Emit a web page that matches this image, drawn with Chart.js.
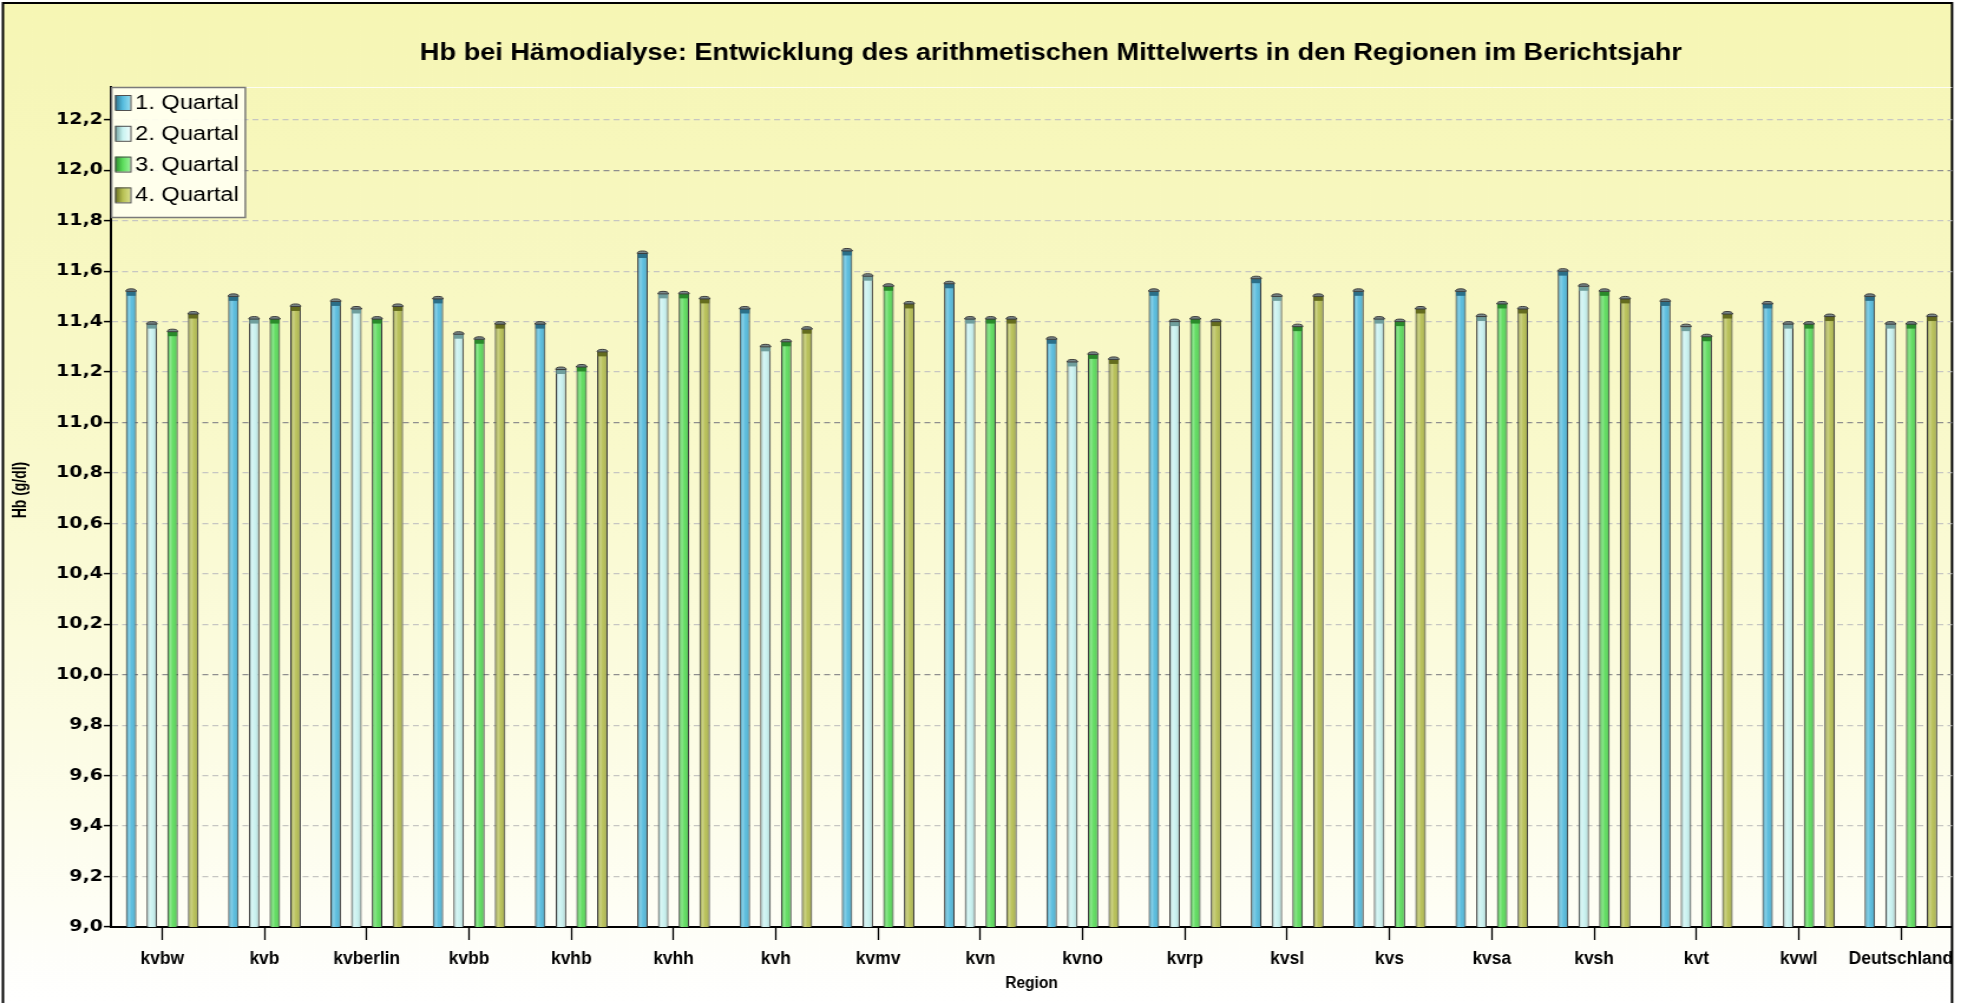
<!DOCTYPE html>
<html><head><meta charset="utf-8">
<script src="https://cdn.jsdelivr.net/npm/chart.js@4"></script>
<style>html,body{margin:0;padding:0;background:#fff;overflow:hidden}#wrap{width:1961px;height:1003px;position:relative}</style>
</head><body><div id="wrap"><canvas id="c" width="1662" height="1003" style="width:1961px;height:1003px;display:block"></canvas></div>
<script>
const chartTitle = 'Hb bei Hämodialyse: Entwicklung des arithmetischen Mittelwerts in den Regionen im Berichtsjahr';
const yAxisTitle = 'Hb (g/dl)';
const xAxisTitle = 'Region';
const categories = ['kvbw','kvb','kvberlin','kvbb','kvhb','kvhh','kvh','kvmv','kvn','kvno','kvrp','kvsl','kvs','kvsa','kvsh','kvt','kvwl','Deutschland'];
const seriesLabels = ['1. Quartal','2. Quartal','3. Quartal','4. Quartal'];
const q1 = [11.52, 11.50, 11.48, 11.49, 11.39, 11.67, 11.45, 11.68, 11.55, 11.33, 11.52, 11.57, 11.52, 11.52, 11.60, 11.48, 11.47, 11.50];
const q2 = [11.39, 11.41, 11.45, 11.35, 11.21, 11.51, 11.30, 11.58, 11.41, 11.24, 11.40, 11.50, 11.41, 11.42, 11.54, 11.38, 11.39, 11.39];
const q3 = [11.36, 11.41, 11.41, 11.33, 11.22, 11.51, 11.32, 11.54, 11.41, 11.27, 11.41, 11.38, 11.40, 11.47, 11.52, 11.34, 11.39, 11.39];
const q4 = [11.43, 11.46, 11.46, 11.39, 11.28, 11.49, 11.37, 11.47, 11.41, 11.25, 11.40, 11.50, 11.45, 11.45, 11.49, 11.43, 11.42, 11.42];
const yTickValues = [9.0, 9.2, 9.4, 9.6, 9.8, 10.0, 10.2, 10.4, 10.6, 10.8, 11.0, 11.2, 11.4, 11.6, 11.8, 12.0, 12.2];

const seriesColors = [
  {base:'#54bbdd', dark:'#2b6f88', light:'#94dcf0'},
  {base:'#c8f2f0', dark:'#6f9e9c', light:'#effefd'},
  {base:'#5bdc5b', dark:'#2a8a2a', light:'#9af29a'},
  {base:'#b6bf52', dark:'#646c1e', light:'#d8df8a'}
];
const seriesData = [q1, q2, q3, q4];

// canvas is drawn at 1662 px wide and displayed stretched to 1961 px, like the reference
const FRAME_L = 2.5, FRAME_R = 1654.4, FRAME_T = 3;
const AXIS_FONT = '"Liberation Sans", Arial, sans-serif';
const NARROW = 0.82; // horizontal squeeze for the narrow axis captions

function narrowText(ctx, text, x, y, size, rotate) {
  ctx.save();
  ctx.translate(x, y);
  if (rotate) ctx.rotate(-Math.PI / 2);
  ctx.scale(NARROW, 1);
  ctx.font = 'bold ' + size + 'px ' + AXIS_FONT;
  ctx.fillStyle = '#000';
  ctx.textAlign = 'center';
  ctx.textBaseline = 'middle';
  ctx.fillText(text, 0, 0);
  ctx.restore();
}

const framePlugin = {
  id: 'frame',
  beforeDraw(chart) {
    const ctx = chart.ctx;
    ctx.save();
    ctx.fillStyle = '#ffffff';
    ctx.fillRect(0, 0, chart.width, chart.height);
    const g = ctx.createLinearGradient(0, FRAME_T, 0, chart.height);
    g.addColorStop(0, '#f6f6b4');
    g.addColorStop(0.45, '#f9f9cc');
    g.addColorStop(0.8, '#fdfdea');
    g.addColorStop(1, '#ffffff');
    ctx.fillStyle = g;
    ctx.fillRect(FRAME_L, FRAME_T, FRAME_R - FRAME_L, chart.height - FRAME_T);
    ctx.strokeStyle = '#000';
    ctx.lineWidth = 2;
    ctx.beginPath();
    ctx.moveTo(FRAME_L, chart.height); ctx.lineTo(FRAME_L, FRAME_T); ctx.lineTo(FRAME_R, FRAME_T); ctx.lineTo(FRAME_R, chart.height);
    ctx.stroke();
    const a = chart.chartArea;
    ctx.strokeStyle = 'rgba(255,255,255,0.8)';
    ctx.lineWidth = 1;
    ctx.beginPath(); ctx.moveTo(a.left, a.top + 0.5); ctx.lineTo(a.right, a.top + 0.5); ctx.stroke();
    ctx.restore();
  },
  afterDraw(chart) {
    const ctx = chart.ctx;
    const a = chart.chartArea;
    ctx.save();
    ctx.fillStyle = '#000';
    ctx.font = 'bold 23px "Liberation Sans", Arial, sans-serif';
    ctx.textAlign = 'center';
    ctx.textBaseline = 'middle';
    ctx.fillText(chartTitle, 890.7, 54);
    ctx.restore();
    narrowText(ctx, yAxisTitle, 17, 490, 17, true);
    const xs = chart.scales.x;
    xs.ticks.forEach((t, i) => {
      narrowText(ctx, xs.getLabelForValue(t.value), xs.getPixelForTick(i), a.bottom + 32, 18, false);
    });
    narrowText(ctx, xAxisTitle, (a.left + a.right) / 2, 984, 16, false);
  }
};

const barDecorPlugin = {
  id: 'barDecor',
  afterDatasetsDraw(chart) {
    const ctx = chart.ctx;
    const a = chart.chartArea;
    ctx.save();
    chart.data.datasets.forEach((ds, di) => {
      const meta = chart.getDatasetMeta(di);
      const col = seriesColors[di];
      meta.data.forEach(el => {
        const w = el.width, x0 = el.x - w / 2, top = el.y, bot = Math.min(el.base, a.bottom);
        const g = ctx.createLinearGradient(x0, 0, x0 + w, 0);
        g.addColorStop(0, 'rgba(0,0,0,0.22)');
        g.addColorStop(0.3, 'rgba(255,255,255,0.30)');
        g.addColorStop(0.55, 'rgba(255,255,255,0.05)');
        g.addColorStop(1, 'rgba(0,0,0,0.22)');
        ctx.fillStyle = g;
        ctx.fillRect(x0 + 1, top + 1, w - 2, bot - top - 1);
        ctx.fillStyle = col.dark;
        ctx.fillRect(x0 + 0.5, top, w - 1, 4.5);
        ctx.beginPath();
        ctx.ellipse(el.x, top, w / 2, 2.5, 0, Math.PI, 2 * Math.PI);
        ctx.closePath();
        ctx.fillStyle = '#7b8a8c';
        ctx.fill();
        ctx.strokeStyle = '#3a3a3a';
        ctx.lineWidth = 1;
        ctx.stroke();
      });
    });
    ctx.restore();
  }
};

const legendPlugin = {
  id: 'customLegend',
  afterDatasetsDraw(chart) {
    const ctx = chart.ctx;
    const a = chart.chartArea;
    ctx.save();
    ctx.font = '20px "Liberation Sans", Arial, sans-serif';
    let maxW = 0;
    chart.data.datasets.forEach(ds => { maxW = Math.max(maxW, ctx.measureText(ds.label).width); });
    const bx = a.left, by = a.top, textX = bx + 20.5, bw = 20.5 + maxW + 5, bh = 130;
    ctx.fillStyle = 'rgba(255,255,240,0.92)';
    ctx.fillRect(bx, by, bw, bh);
    ctx.strokeStyle = '#7a7a7a';
    ctx.lineWidth = 1.5;
    ctx.strokeRect(bx + 0.5, by + 0.5, bw, bh);
    chart.data.datasets.forEach((ds, i) => {
      const cy = by + 15.5 + i * 30.8;
      const col = seriesColors[i];
      const sx = bx + 3.4, sy = cy - 7.5, sw = 13, sh = 15;
      const g = ctx.createLinearGradient(sx, 0, sx + sw, 0);
      g.addColorStop(0, col.dark);
      g.addColorStop(0.5, col.base);
      g.addColorStop(1, col.light);
      ctx.fillStyle = g;
      ctx.fillRect(sx, sy, sw, sh);
      ctx.strokeStyle = '#505050';
      ctx.lineWidth = 1;
      ctx.strokeRect(sx + 0.5, sy + 0.5, sw, sh);
      ctx.fillStyle = '#000';
      ctx.textAlign = 'left';
      ctx.textBaseline = 'middle';
      ctx.fillText(ds.label, textX, cy + 1);
    });
    ctx.restore();
  }
};

new Chart(document.getElementById('c'), {
  type: 'bar',
  data: {
    labels: categories,
    datasets: seriesData.map((d, i) => ({
      label: seriesLabels[i],
      data: d,
      backgroundColor: seriesColors[i].base,
      borderColor: '#3c3c3c',
      borderWidth: 1.1,
      categoryPercentage: 0.81,
      barPercentage: 0.51
    }))
  },
  options: {
    responsive: false,
    devicePixelRatio: 1,
    animation: false,
    layout: { padding: { top: 87, right: 7.6, left: 0, bottom: 0 } },
    plugins: { legend: { display: false }, title: { display: false }, tooltip: { enabled: false } },
    scales: {
      x: {
        offset: true,
        afterFit: s => { s.height = 76; },
        grid: { offset: false, drawOnChartArea: false, drawTicks: true, tickLength: 13, tickColor: '#000', tickWidth: 1.3, tickBorderDash: [], color: '#000' },
        border: { display: true, color: '#000', width: 2 },
        ticks: { display: false, autoSkip: false, maxRotation: 0 },
        title: { display: false }
      },
      y: {
        min: 9,
        max: 12.33,
        afterBuildTicks: s => { s.ticks = yTickValues.map(v => ({ value: v })); },
        afterFit: s => { s.width = 94.1; },
        grid: {
          color: c => (c.tick && Math.abs(c.tick.value - Math.round(c.tick.value)) < 1e-6) ? '#8e8e8e' : '#c6c6c2',
          lineWidth: 1.2, tickLength: 6, tickColor: '#000', tickWidth: 1.5, tickBorderDash: []
        },
        border: { display: true, color: '#000', width: 2, dash: [5, 3.5] },
        ticks: { font: { family: '"DejaVu Sans", sans-serif', weight: 'bold', size: 16 }, color: '#000', padding: 1,
          callback: v => Number(v).toFixed(1).replace('.', ',') },
        title: { display: false }
      }
    }
  },
  plugins: [framePlugin, barDecorPlugin, legendPlugin]
});
</script></body></html>
